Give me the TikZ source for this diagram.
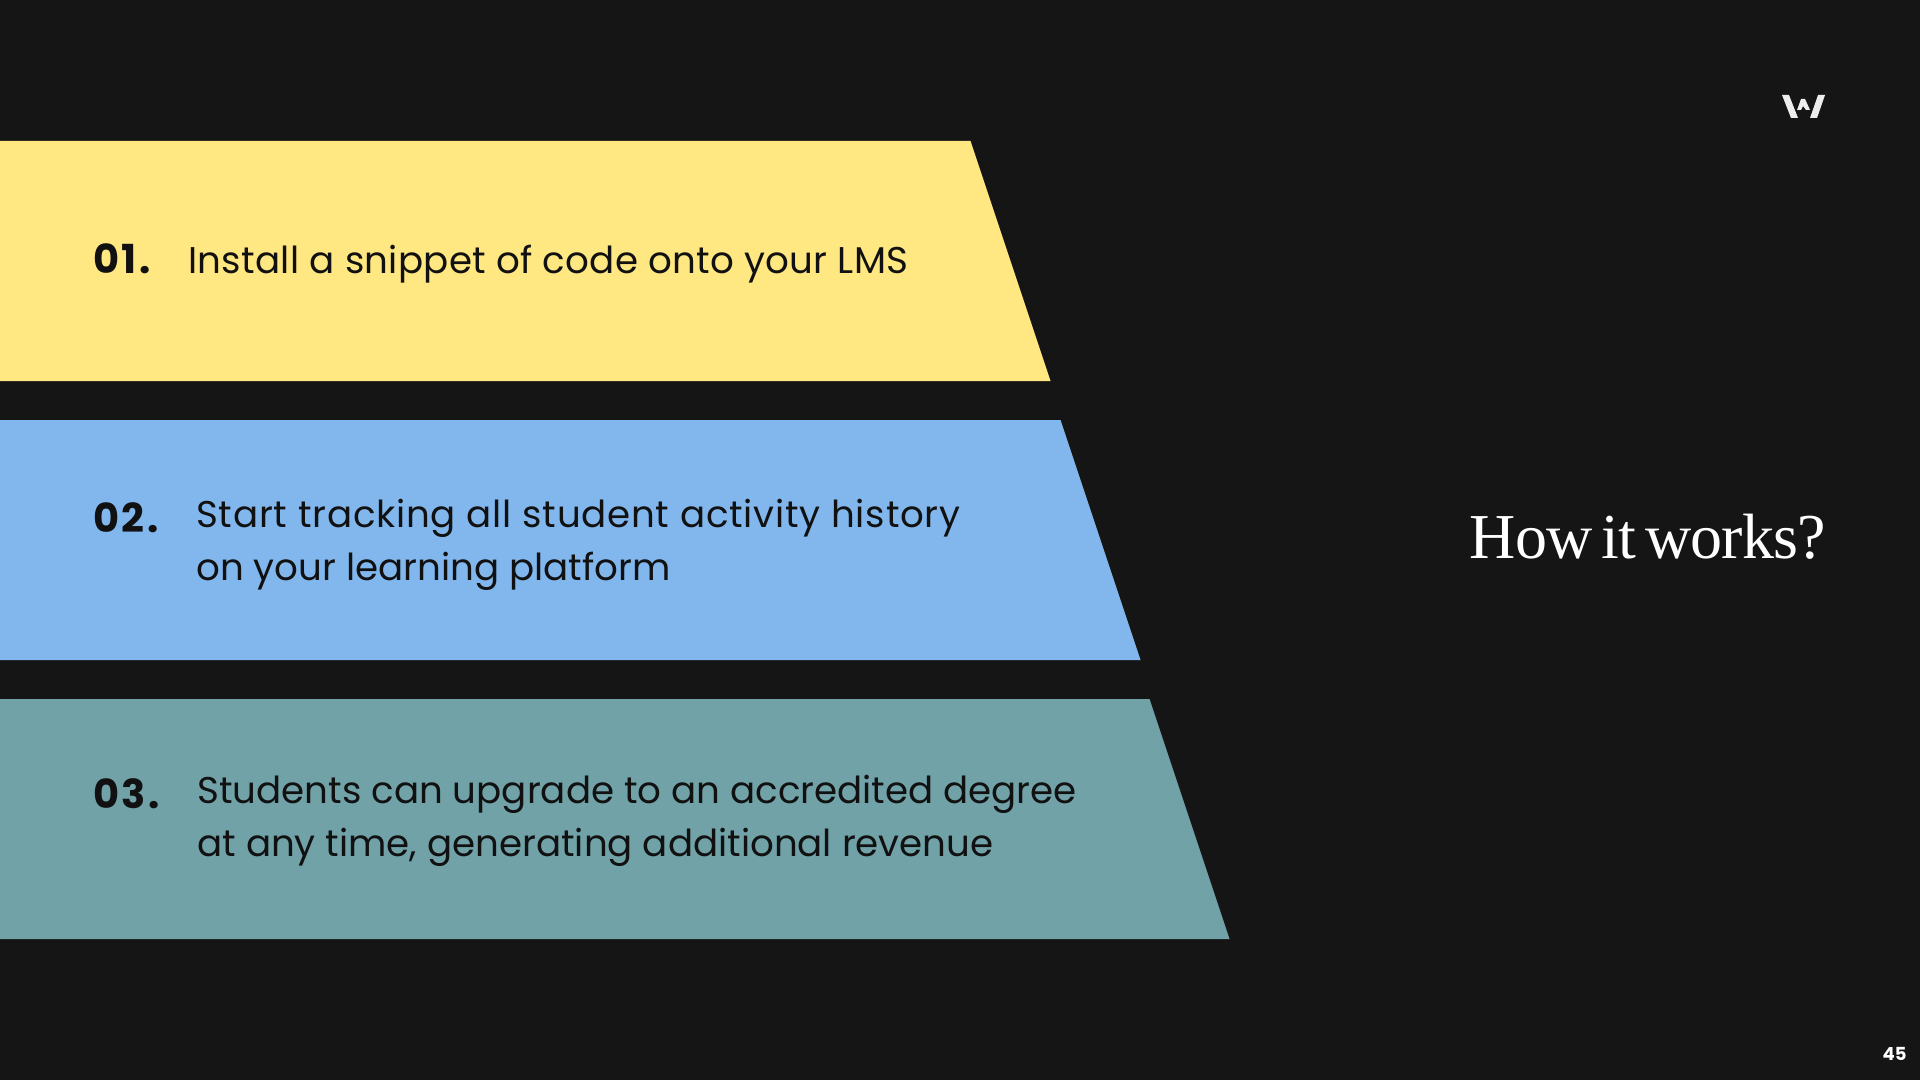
\documentclass[tikz,border=0pt]{standalone}
\usepackage{fontspec}
\setmainfont{Poppins}
\newfontfamily\headfont[LetterSpace=-1.4,WordSpace=0.6]{Liberation Serif}
\newfontfamily\numfont[LetterSpace=6]{Poppins}
\newfontfamily\bodywide[LetterSpace=2.1]{Poppins}
\newfontfamily\bodymid[LetterSpace=0.76]{Poppins}
% one px = 0.5pt; the origin is the top-left corner, y grows downward in px
\tikzset{
  x=0.5pt,y=-0.5pt,
  band/.style={fill=#1,draw=none},
  numlabel/.style={anchor=base west,inner sep=0pt,font=\numfont\bfseries\fontsize{20}{24}\selectfont,text=inkdark},
  steplabel/.style={anchor=base west,inner sep=0pt,font=\fontsize{18.6}{26.6}\selectfont,text=inkdark},
}
\definecolor{page}{HTML}{151515}
\definecolor{inkdark}{HTML}{111111}
\definecolor{bandyellow}{HTML}{FFE782}
\definecolor{bandblue}{HTML}{82B7EE}
\definecolor{bandteal}{HTML}{70A2A8}
\definecolor{logotint}{HTML}{EDEDED}
\begin{document}
\begin{tikzpicture}
\useasboundingbox (0,0) rectangle (1920,1080);
\fill[page] (0,0) rectangle (1920,1080);
% stepped bands
\fill[band=bandyellow] (0,141) -- (970.5,141) -- (1050.5,381) -- (0,381) -- cycle;
\fill[band=bandblue] (0,420) -- (1060.5,420) -- (1140.5,660) -- (0,660) -- cycle;
\fill[band=bandteal] (0,699) -- (1149.5,699) -- (1229.5,939) -- (0,939) -- cycle;
% step numbers
\node[numlabel] (n1) at (93,274) {01.};
\node[numlabel] (n2) at (93,532) {02.};
\node[numlabel] (n3) at (93,808) {03.};
% step descriptions
\node[steplabel] (t1) at (188,274) {\bodymid Install a snippet of code onto your LMS};
\node[steplabel] (t2a) at (196,527) {\bodywide Start tracking all student activity history};
\node[steplabel] (t2b) at (196,580) {on your learning platform};
\node[steplabel] (t3a) at (197,803) {Students can upgrade to an accredited degree};
\node[steplabel] (t3b) at (197,856) {at any time, generating additional revenue};
% heading
\node[anchor=base east,inner sep=0pt,text=white,font=\headfont\fontsize{32}{38}\selectfont] (head) at (1826,558) {How it works?};
% logo mark
\fill[logotint] (1782,95) -- (1789,95) -- (1798,118) -- (1791,118) -- cycle;
\fill[logotint] (1801,99) -- (1805,99) -- (1810,110) -- (1806,110) -- (1803,106) -- (1801,110) -- (1797,110) -- cycle;
\fill[logotint] (1818,95) -- (1825,95) -- (1817,118) -- (1810,118) -- cycle;
% page number
\node[anchor=base east,inner sep=0pt,text=white,font=\bfseries\fontsize{9}{11}\selectfont] (pg) at (1907,1060) {45};
\end{tikzpicture}
\end{document}
